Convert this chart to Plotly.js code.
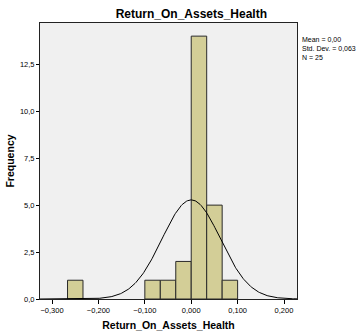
<!DOCTYPE html>
<html>
<head>
<meta charset="utf-8">
<script src="https://cdn.plot.ly/plotly-3.0.1.min.js"></script>
<style>
  html, body { margin: 0; padding: 0; background: #fff; }
  #chart { width: 356px; height: 336px; }
</style>
</head>
<body>
<div id="chart"></div>
<script>
// Histogram bins (lower edges) and frequencies
const binWidth = 1 / 30;
const binStarts = [-0.26667, -0.1, -0.06667, -0.03333, 0.0, 0.03333, 0.06667];
const counts = [1, 1, 1, 2, 14, 5, 1];

// Summary statistics shown in the corner
const meanVal = 0.00;
const sdVal = 0.063;
const nVal = 25;

const xTicks = [-0.3, -0.2, -0.1, 0.0, 0.1, 0.2];
const yTicks = [0, 2.5, 5, 7.5, 10, 12.5];

const centers = binStarts.map(s => s + binWidth / 2);

// Fitted normal curve scaled to counts per bin
const curveX = [];
const curveY = [];
for (let i = 0; i <= 300; i++) {
  const x = -0.326 + i * (0.554 / 300);
  const z = (x - meanVal) / sdVal;
  curveX.push(x);
  curveY.push(nVal * binWidth / (sdVal * Math.sqrt(2 * Math.PI)) * Math.exp(-0.5 * z * z));
}

const traces = [
  {
    type: 'bar',
    x: centers,
    y: counts,
    width: binWidth,
    marker: { color: '#d3ce97', line: { color: '#2a2a2a', width: 1 } },
    hoverinfo: 'x+y'
  },
  {
    type: 'scatter',
    mode: 'lines',
    x: curveX,
    y: curveY,
    line: { color: '#000', width: 1 },
    hoverinfo: 'skip'
  }
];

const layout = {
  width: 356,
  height: 336,
  margin: { l: 40, r: 59, t: 23, b: 37 },
  paper_bgcolor: '#ffffff',
  plot_bgcolor: '#f0f0f0',
  separators: ', ',
  showlegend: false,
  font: { family: 'Liberation Sans, Arial, sans-serif', color: '#000' },
  title: {
    text: '<b>Return_On_Assets_Health</b>',
    font: { size: 12, family: 'Liberation Sans, Arial, sans-serif', color: '#000' },
    x: 0.5375, xanchor: 'center', y: 0.958, yanchor: 'middle'
  },
  xaxis: {
    range: [-0.326, 0.228],
    tickvals: xTicks,
    tickformat: '.3f',
    ticks: 'outside', ticklen: 4, tickcolor: '#000',
    tickfont: { size: 7.5, color: '#000' },
    showgrid: false, zeroline: false,
    showline: true, linecolor: '#222', linewidth: 1, mirror: true,
    title: { text: '<b>Return_On_Assets_Health</b>', font: { size: 10.5, color: '#000' }, standoff: 7 }
  },
  yaxis: {
    range: [0, 14.7],
    tickvals: yTicks,
    tickformat: '.1f',
    ticks: 'outside', ticklen: 3, tickcolor: '#000',
    tickfont: { size: 7.5, color: '#000' },
    showgrid: false, zeroline: false,
    showline: true, linecolor: '#222', linewidth: 1, mirror: true,
    title: { text: '<b>Frequency</b>', font: { size: 10.5, color: '#000' }, standoff: 3 }
  },
  bargap: 0,
  annotations: [
    {
      xref: 'paper', yref: 'paper',
      x: 1.013, y: 0.96, xanchor: 'left', yanchor: 'top',
      align: 'left', showarrow: false,
      text: 'Mean = 0,00<br>Std. Dev. = 0,063<br>N = 25',
      font: { size: 7, color: '#000' }
    }
  ]
};

Plotly.newPlot('chart', traces, layout, { displayModeBar: false, staticPlot: true });
</script>
</body>
</html>
